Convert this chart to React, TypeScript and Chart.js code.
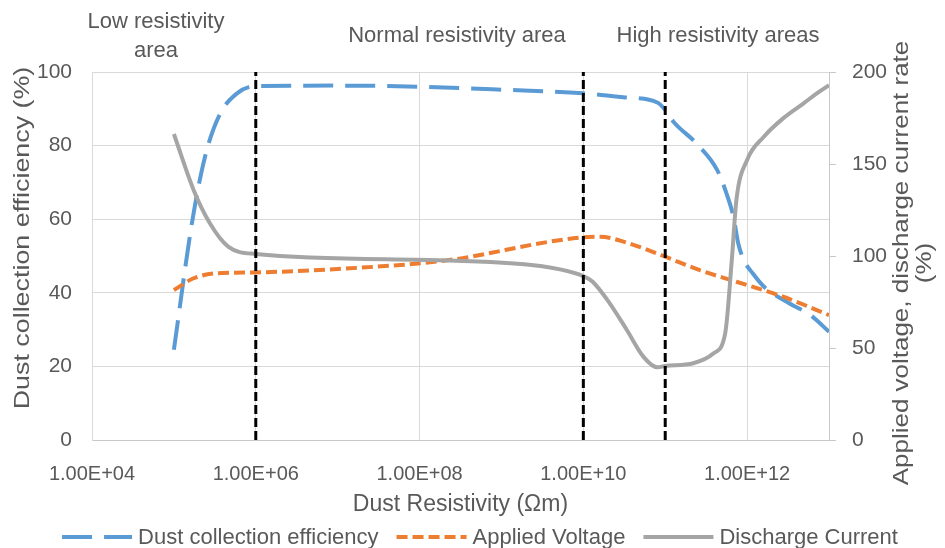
import { useEffect, useRef } from "react";
import { Chart, registerables } from "chart.js";

Chart.register(...registerables);

// Dust collection efficiency (%) vs. dust resistivity (Ωm)
const effResistivity = [
  1e5, 1.66e5, 2.4e5, 3.6e5, 5.9e5, 1e6, 1e7, 1e8, 1e9, 1e10, 3.2e10, 8e10, 1e11,
  1.26e11, 2.4e11, 4.3e11, 5.6e11, 6.8e11, 7.8e11, 9.1e11, 1.17e12, 1.6e12, 3.3e12, 5.9e12, 1e13,
];
const efficiency = [
  24.5, 58.9, 77, 88.3, 94.2, 96.2, 96.3, 96.0, 95.2, 94.2, 93.1, 91.7, 89.7,
  86.5, 80.6, 73.4, 67, 60.7, 53.4, 48.9, 45.3, 41.7, 37.1, 34.0, 29.4,
];

// Applied voltage (%) vs. dust resistivity (Ωm)
const volResistivity = [
  1e5, 1.74e5, 3.3e5, 1e6, 1.4e7, 2.3e8, 3.9e9, 1e10, 1.6e10, 3.4e10, 1e11, 2.6e11, 7.4e11, 2.75e12, 1e13,
];
const voltage = [81.5, 87.9, 90.6, 91.1, 93.3, 97.8, 107.8, 110.2, 110.5, 107.2, 99.6, 92.4, 86.0, 77.9, 67.9];

// Discharge current rate (%) vs. dust resistivity (Ωm)
const curResistivity = [
  1e5, 1.74e5, 2.75e5, 4.6e5, 1e6, 2.3e8, 3.9e9, 1e10, 1.3e10, 2.1e10, 3.4e10, 5.4e10, 8e10,
  1e11, 2.2e11, 3.9e11, 5.4e11, 6.5e11, 7.4e11, 1e12, 1.6e12, 2.75e12, 4.9e12, 7.1e12, 1e13,
];
const current = [
  166.3, 135.9, 117.8, 105.1, 101.1, 97.5, 93.8, 89.1, 86.0, 74.3, 59.8, 45.3, 39.5,
  40.2, 41.7, 47.1, 58.0, 97.8, 130.4, 152.2, 164.8, 174.8, 183, 188.4, 192.9,
];

// Boundaries between the resistivity regions (Ωm)
const regionBounds = [1e6, 1e10, 1e11];
const regionNames = [["Low resistivity", "area"], ["Normal resistivity area"], ["High resistivity areas"]];

const xTickValues = [1e4, 1e6, 1e8, 1e10, 1e12];
const xTickLabels = ["1.00E+04", "1.00E+06", "1.00E+08", "1.00E+10", "1.00E+12"];

const seriesNames = ["Dust collection efficiency", "Applied Voltage", "Discharge Current"];
const xTitle = "Dust Resistivity (Ωm)";
const yTitle = "Dust collection efficiency (%)";
const y1Title = ["Applied voltage, discharge current rate", "(%)"];

const FAMILY = '"Liberation Sans", Arial, sans-serif';
const TEXT = "#595959";
const GRID = "#D9D9D9";
const AXIS = "#C8C8C8";
const BLUE = "#5B9BD5";
const ORANGE = "#ED7D31";
const GRAY = "#A5A5A5";

const pts = (xs: number[], ys: number[]) => xs.map((x, i) => ({ x, y: ys[i] }));

function drawText(ctx: CanvasRenderingContext2D, text: string, x: number, y: number, rot = 0, stretch = 1) {
  ctx.save();
  ctx.translate(x, y);
  ctx.rotate(rot);
  ctx.scale(stretch, 1);
  ctx.fillText(text, 0, 0);
  ctx.restore();
}

// Region captions, rotated axis titles and the legend row
const decorations = {
  id: "decorations",
  afterDraw(chart: any) {
    const ctx: CanvasRenderingContext2D = chart.ctx;
    ctx.save();
    ctx.fillStyle = TEXT;
    ctx.font = `22px ${FAMILY}`;
    ctx.textAlign = "center";
    ctx.textBaseline = "alphabetic";
    drawText(ctx, regionNames[0][0], 156, 28);
    drawText(ctx, regionNames[0][1], 156, 57);
    drawText(ctx, regionNames[1][0], 457, 42);
    drawText(ctx, regionNames[2][0], 718, 42);

    ctx.textBaseline = "middle";
    drawText(ctx, yTitle, 23, 238, -Math.PI / 2, 1.22);
    drawText(ctx, y1Title[0], 902, 263, -Math.PI / 2, 1.18);
    drawText(ctx, y1Title[1], 925, 263, -Math.PI / 2, 1.18);

    // legend, in series order
    const items = seriesNames
      .map((n) => chart.data.datasets.find((d: any) => d.label === n))
      .filter(Boolean);
    const sample = 70;
    const gap = 6;
    const spacing = 18;
    ctx.textAlign = "left";
    const widths = items.map((d: any) => ctx.measureText(d.label).width);
    const total = widths.reduce((a: number, w: number) => a + sample + gap + w, 0) + spacing * (items.length - 1);
    let x = 480 - total / 2;
    const y = 537;
    items.forEach((d: any, i: number) => {
      ctx.save();
      ctx.strokeStyle = d.borderColor;
      ctx.lineWidth = d.borderWidth;
      ctx.setLineDash(d.borderDash || []);
      ctx.beginPath();
      ctx.moveTo(x, y);
      ctx.lineTo(x + sample, y);
      ctx.stroke();
      ctx.restore();
      ctx.fillText(d.label, x + sample + gap, y + 1);
      x += sample + gap + widths[i] + spacing;
    });
    ctx.restore();
  },
};

export default function App() {
  const ref = useRef<HTMLCanvasElement>(null);

  useEffect(() => {
    const line = { pointRadius: 0, fill: false, cubicInterpolationMode: "monotone" as const };
    const chart = new Chart(ref.current!, {
      type: "line",
      data: {
        datasets: [
          ...regionBounds.map((b) => ({
            label: "",
            data: [{ x: b, y: 0 }, { x: b, y: 100 }],
            yAxisID: "y",
            borderColor: "#000000",
            borderWidth: 3,
            borderDash: [9, 4],
            pointRadius: 0,
            order: 0,
          })),
          {
            ...line,
            label: seriesNames[2],
            data: pts(curResistivity, current),
            yAxisID: "y1",
            borderColor: GRAY,
            borderWidth: 4,
            order: 1,
          },
          {
            ...line,
            label: seriesNames[1],
            data: pts(volResistivity, voltage),
            yAxisID: "y1",
            borderColor: ORANGE,
            borderWidth: 4,
            borderDash: [11, 5],
            order: 2,
          },
          {
            ...line,
            label: seriesNames[0],
            data: pts(effResistivity, efficiency),
            yAxisID: "y",
            borderColor: BLUE,
            borderWidth: 4,
            borderDash: [30, 12],
            order: 3,
          },
        ],
      },
      options: {
        animation: false,
        responsive: false,
        devicePixelRatio: 1,
        events: [],
        layout: { padding: { top: 72, left: 0, right: 0, bottom: 30 } },
        plugins: { legend: { display: false }, tooltip: { enabled: false } },
        scales: {
          x: {
            type: "logarithmic",
            min: 1e4,
            max: 1e13,
            afterBuildTicks: (s: any) => {
              s.ticks = xTickValues.map((v) => ({ value: v }));
            },
            afterFit: (s: any) => {
              s.height = 78;
            },
            grid: { color: GRID, drawTicks: false, lineWidth: 1 },
            border: { color: AXIS, width: 1 },
            ticks: {
              autoSkip: false,
              maxRotation: 0,
              padding: 22,
              color: TEXT,
              font: { family: FAMILY, size: 20 },
              callback: (v: any) => {
                const i = xTickValues.indexOf(Number(v));
                return i >= 0 ? xTickLabels[i] : "";
              },
            },
            title: {
              display: true,
              text: xTitle,
              color: TEXT,
              font: { family: FAMILY, size: 23 },
              padding: { top: 0, bottom: 0 },
            },
          },
          y: {
            position: "left",
            min: 0,
            max: 100,
            afterFit: (s: any) => {
              s.width = 92;
            },
            grid: { color: GRID, drawTicks: false },
            border: { color: GRID },
            ticks: { stepSize: 20, padding: 20, color: TEXT, font: { family: FAMILY, size: 21 } },
          },
          y1: {
            position: "right",
            min: 0,
            max: 200,
            afterFit: (s: any) => {
              s.width = 116;
            },
            grid: { drawOnChartArea: false, drawTicks: true, tickLength: 7, color: AXIS },
            border: { color: AXIS },
            ticks: { stepSize: 50, padding: 16, color: TEXT, font: { family: FAMILY, size: 21 } },
          },
        },
      },
      plugins: [decorations],
    } as any);
    return () => chart.destroy();
  }, []);

  return (
    <div style={{ position: "absolute", left: 0, top: 0, width: 945, height: 548, background: "#ffffff" }}>
      <canvas ref={ref} width={945} height={548} style={{ display: "block", width: 945, height: 548 }} />
    </div>
  );
}
